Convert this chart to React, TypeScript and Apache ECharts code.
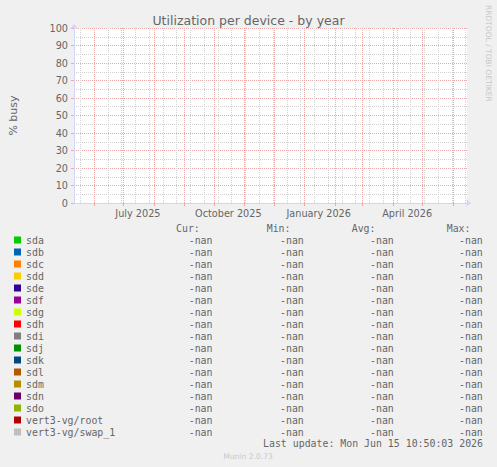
import React, { useEffect, useRef } from "react";
import * as echarts from "echarts";

// ---- data ----
const deviceNames = [
  "sda", "sdb", "sdc", "sdd", "sde", "sdf", "sdg", "sdh", "sdi",
  "sdj", "sdk", "sdl", "sdm", "sdn", "sdo", "vert3-vg/root", "vert3-vg/swap_1",
];
const deviceColors = [
  "#00CC00", "#0066B3", "#FF8000", "#FFCC00", "#330099", "#990099", "#CCFF00", "#FF0000", "#808080",
  "#008F00", "#00487D", "#B35A00", "#B38F00", "#6B006B", "#8FB300", "#B30000", "#BEBEBE",
];
// every device reported no data (all values NaN) over the year
const deviceValues: (number | null)[][] = deviceNames.map(() => []);

const yTicks = [0, 10, 20, 30, 40, 50, 60, 70, 80, 90, 100];
const monthStarts = [
  "2025-06-01", "2025-07-01", "2025-08-01", "2025-09-01", "2025-10-01", "2025-11-01", "2025-12-01",
  "2026-01-01", "2026-02-01", "2026-03-01", "2026-04-01", "2026-05-01", "2026-06-01",
];
const xTickLabels = ["July 2025", "October 2025", "January 2026", "April 2026"];
const xTickLabelDates = ["2025-07-15T12:00:00Z", "2025-10-15T12:00:00Z", "2026-01-15T12:00:00Z", "2026-04-15T12:00:00Z"];
const lastUpdate = "2026-06-15T10:50:03Z";
const minorGridAnchor = "2025-05-18";

const DAY = 86400000;
const END = Date.parse(lastUpdate);
const START = END - 400 * DAY;

const minorGrid: number[] = [];
for (let t = Date.parse(minorGridAnchor); t <= END; t += 14 * DAY) minorGrid.push(t);
const majorGrid = monthStarts.map((d) => Date.parse(d));
const labelTimes = xTickLabelDates.map((d) => Date.parse(d));

function stat(vals: (number | null)[], kind: string): string {
  const v = vals.filter((x) => typeof x === "number" && isFinite(x as number)) as number[];
  if (!v.length) return "-nan";
  let r = 0;
  if (kind === "cur") r = v[v.length - 1];
  else if (kind === "min") r = Math.min(...v);
  else if (kind === "max") r = Math.max(...v);
  else r = v.reduce((a, b) => a + b, 0) / v.length;
  return r.toFixed(2);
}

const FONT = "DejaVu Sans";
const MONO = "DejaVu Sans Mono";
const TXT = "#666666";
const MGRID = "#eda8a8";
const GRID = "#d2d2d2";
const AXIS = "#cfd6f8";
const MS = 9.9;

export default function App() {
  const ref = useRef<HTMLDivElement>(null);
  useEffect(() => {
    if (!ref.current) return;
    const chart = echarts.init(ref.current, null, { renderer: "svg" });
    const mono = { fontFamily: MONO, fontSize: MS, color: TXT, lineHeight: 12 };
    const option: any = {
      animation: false,
      backgroundColor: "#f0f0f0",
      title: {
        text: "Utilization per device - by year",
        left: "center",
        top: 14,
        padding: 0,
        textStyle: { fontFamily: FONT, fontSize: 12.5, fontWeight: "normal", color: TXT },
      },
      grid: { left: 67, top: 28, width: 400, height: 175, show: true, backgroundColor: "#ffffff", borderWidth: 0 },
      xAxis: [
        {
          type: "value",
          min: START,
          max: END,
          position: "bottom",
          axisLine: { show: false },
          axisTick: { show: false, customValues: minorGrid },
          axisLabel: { show: false },
          splitLine: { show: true, customValues: minorGrid, lineStyle: { color: GRID, width: 1, type: [1, 1] } },
        },
        {
          type: "value",
          min: START,
          max: END,
          position: "bottom",
          axisLine: {
            show: true,
            symbol: ["none", "arrow"],
            symbolSize: [6, 5],
            symbolOffset: [0, 4],
            lineStyle: { color: AXIS, width: 1 },
          },
          axisTick: { show: true, length: 3, customValues: majorGrid, lineStyle: { color: MGRID } },
          axisLabel: {
            show: true,
            customValues: labelTimes,
            margin: 5,
            fontFamily: FONT,
            fontSize: 9.7,
            color: TXT,
            formatter: (v: number) => {
              const i = labelTimes.findIndex((t) => Math.abs(t - v) < 1000);
              return i >= 0 ? xTickLabels[i] : "";
            },
          },
          splitLine: { show: true, customValues: majorGrid, lineStyle: { color: MGRID, width: 1, type: [1, 1] } },
        },
      ],
      yAxis: {
        type: "value",
        min: yTicks[0],
        max: yTicks[yTicks.length - 1],
        interval: yTicks[1] - yTicks[0],
        name: "% busy",
        nameLocation: "middle",
        nameGap: 55,
        nameTextStyle: { fontFamily: FONT, fontSize: 11, color: TXT },
        axisLine: {
          show: true,
          symbol: ["none", "arrow"],
          symbolSize: [6, 5],
          symbolOffset: [0, 4],
          lineStyle: { color: AXIS, width: 1 },
        },
        axisTick: { show: true, length: 3, lineStyle: { color: MGRID } },
        axisLabel: { margin: 6, fontFamily: FONT, fontSize: 9.7, color: TXT },
        splitLine: { show: true, lineStyle: { color: MGRID, width: 1, type: [1, 1] } },
        minorTick: { show: false, splitNumber: 2 },
        minorSplitLine: { show: true, lineStyle: { color: GRID, width: 1, type: [1, 1] } },
      },
      legend: {
        orient: "vertical",
        left: 14,
        top: 234,
        padding: 0,
        itemGap: 0,
        itemWidth: 7,
        itemHeight: 7,
        icon: "rect",
        selectedMode: false,
        data: deviceNames,
        formatter: (name: string) => {
          const vals = deviceValues[deviceNames.indexOf(name)] || [];
          return `{n|${name}}{c|${stat(vals, "cur")}}{m|${stat(vals, "min")}}{a|${stat(vals, "avg")}}{x|${stat(vals, "max")}}`;
        },
        textStyle: {
          ...mono,
          rich: {
            n: { ...mono, width: 146.5 },
            c: { ...mono, width: 40, align: "right" },
            m: { ...mono, width: 91.3, align: "right" },
            a: { ...mono, width: 90, align: "right" },
            x: { ...mono, width: 89, align: "right" },
          },
        },
      },
      graphic: [
        { type: "text", x: 176, y: 228, silent: true, style: { text: "Cur:", fill: TXT, fontFamily: MONO, fontSize: MS, verticalAlign: "middle" } },
        { type: "text", x: 266.7, y: 228, silent: true, style: { text: "Min:", fill: TXT, fontFamily: MONO, fontSize: MS, verticalAlign: "middle" } },
        { type: "text", x: 351.7, y: 228, silent: true, style: { text: "Avg:", fill: TXT, fontFamily: MONO, fontSize: MS, verticalAlign: "middle" } },
        { type: "text", x: 446.7, y: 228, silent: true, style: { text: "Max:", fill: TXT, fontFamily: MONO, fontSize: MS, verticalAlign: "middle" } },
        {
          type: "text", x: 483, y: 443.5, silent: true,
          style: { text: "Last update: Mon Jun 15 10:50:03 2026", fill: TXT, fontFamily: MONO, fontSize: MS, align: "right", verticalAlign: "middle" },
        },
        {
          type: "text", x: 248, y: 456.7, silent: true,
          style: { text: "Munin 2.0.73", fill: "#c8c8c8", fontFamily: FONT, fontSize: 7.6, align: "center", verticalAlign: "middle" },
        },
        {
          type: "text", x: 488, y: 53.3, rotation: -Math.PI / 2, silent: true,
          style: { text: "RRDTOOL / TOBI OETIKER", fill: "#c8c8c8", fontFamily: FONT, fontSize: 7.5, align: "center", verticalAlign: "middle" },
        },
      ],
      series: deviceNames.map((name, i) => ({
        name,
        type: "line",
        xAxisIndex: 1,
        yAxisIndex: 0,
        color: deviceColors[i],
        showSymbol: false,
        data: deviceValues[i],
      })),
    };
    chart.setOption(option);
    return () => chart.dispose();
  }, []);
  return <div ref={ref} style={{ position: "fixed", left: 0, top: 0, width: 497, height: 467 }} />;
}
